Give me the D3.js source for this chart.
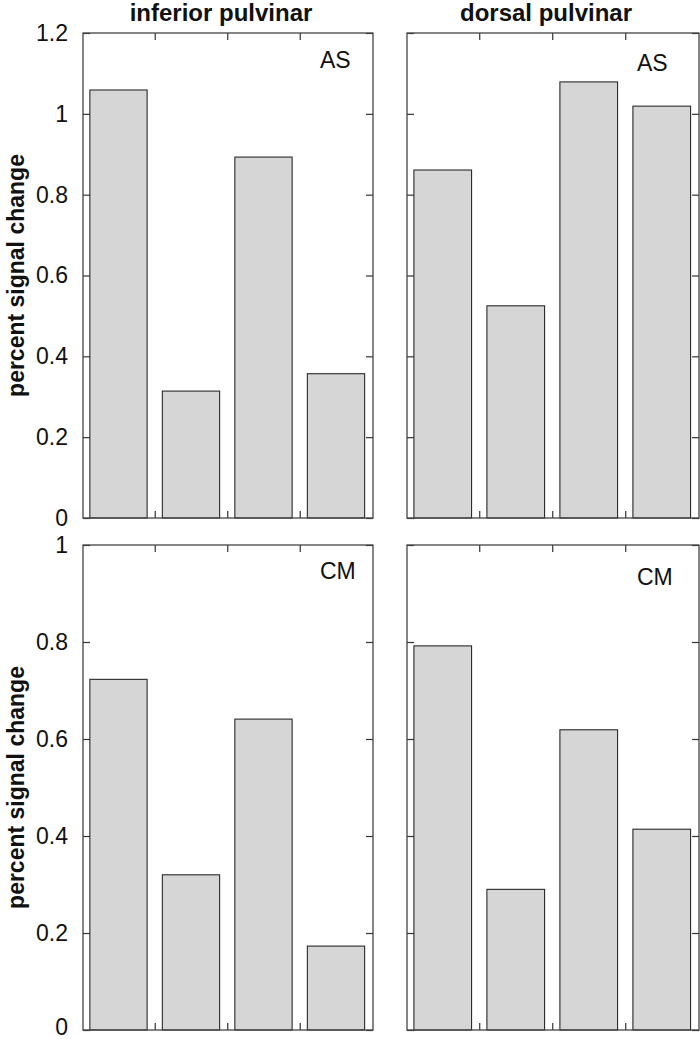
<!DOCTYPE html>
<html>
<head>
<meta charset="utf-8">
<script src="https://cdn.jsdelivr.net/npm/d3@7"></script>
<style>
  body { margin: 0; background: #fff; }
  svg { display: block; font-family: "Liberation Sans", Arial, Helvetica, sans-serif; }
  .tick text { font-size: 23px; fill: #111; }
  .tick line { stroke: #333; stroke-width: 1.2; }
</style>
</head>
<body>
<div id="vis"></div>
<script>
// data
var conditions = ["c1", "c2", "c3", "c4"];
var regions = ["inferior pulvinar", "dorsal pulvinar"];
var subjects = ["AS", "CM"];

var asInferior = [1.059, 0.314, 0.893, 0.357];
var asDorsal = [0.861, 0.525, 1.079, 1.019];
var cmInferior = [0.723, 0.320, 0.641, 0.173];
var cmDorsal = [0.792, 0.290, 0.619, 0.414];

var ticksAS = [0, 0.2, 0.4, 0.6, 0.8, 1, 1.2];
var ticksCM = [0, 0.2, 0.4, 0.6, 0.8, 1];

var panels = [
  {row: 0, col: 0, values: asInferior, max: 1.2, ticks: ticksAS, label: subjects[0], lx: 320, ly: 27},
  {row: 0, col: 1, values: asDorsal,   max: 1.2, ticks: ticksAS, label: subjects[0], lx: 637, ly: 30},
  {row: 1, col: 0, values: cmInferior, max: 1,   ticks: ticksCM, label: subjects[1], lx: 320, ly: 26},
  {row: 1, col: 1, values: cmDorsal,   max: 1,   ticks: ticksCM, label: subjects[1], lx: 637, ly: 32}
];

var width = 700, height = 1039;

/* panel boxes in pixels */
var colLeft = [83, 407];
var colRight = [373, 699];
var rowTop = [33, 545];
var rowBottom = [518, 1030];

var tickLen = 7;

var svg = d3.select("#vis")
  .append("svg")
  .attr("width", width)
  .attr("height", height);

panels.forEach(function(p) {
  var x0 = colLeft[p.col], x1 = colRight[p.col];
  var y0 = rowTop[p.row], y1 = rowBottom[p.row];
  var w = x1 - x0, h = y1 - y0;

  var g = svg.append("g")
    .attr("transform", "translate(" + x0 + "," + y0 + ")");

  var x = d3.scaleBand()
    .domain(conditions)
    .range([0, w])
    .paddingInner(0.21)
    .paddingOuter(0.105)
    .align(0.45);

  var y = d3.scaleLinear()
    .domain([0, p.max])
    .range([h, 0]);

  /* bars */
  g.selectAll("rect.bar")
    .data(p.values)
    .enter()
    .append("rect")
    .attr("class", "bar")
    .attr("x", function(d, i) { return x(conditions[i]); })
    .attr("y", function(d) { return y(d); })
    .attr("width", x.bandwidth())
    .attr("height", function(d) { return h - y(d); })
    .style("fill", "#d6d6d6")
    .style("stroke", "#2a2a2a")
    .style("stroke-width", 1.1);

  /* y ticks, left side (labels only for the left column) */
  var leftAxis = d3.axisLeft(y)
    .tickValues(p.ticks)
    .tickSize(-tickLen)
    .tickPadding(15)
    .tickFormat(p.col === 0 ? d3.format("~g") : "");
  var la = g.append("g").attr("class", "y_axis").call(leftAxis);
  la.select(".domain").remove();
  // keep the lowest label of the bottom row inside the page
  if (p.row === 1) {
    la.selectAll(".tick text").filter(function(d) { return d === 0; }).attr("dy", "0.18em");
  }

  var rightAxis = d3.axisRight(y)
    .tickValues(p.ticks)
    .tickSize(-tickLen)
    .tickFormat("");
  g.append("g").attr("transform", "translate(" + w + ",0)").call(rightAxis)
    .call(function(a) { a.select(".domain").remove(); });

  /* x ticks between the groups, top and bottom */
  var bounds = conditions.slice(1).map(function(c) { return x(c) - x.step() * x.paddingInner() / 2; });
  var xs = d3.scaleLinear().domain([0, w]).range([0, w]);
  var topAxis = d3.axisTop(xs).tickValues(bounds).tickSize(-tickLen).tickFormat("");
  var bottomAxis = d3.axisBottom(xs).tickValues(bounds).tickSize(-tickLen).tickFormat("");
  g.append("g").call(topAxis).call(function(a) { a.select(".domain").remove(); });
  g.append("g").attr("transform", "translate(0," + h + ")").call(bottomAxis)
    .call(function(a) { a.select(".domain").remove(); });

  /* frame */
  g.append("rect")
    .attr("width", w)
    .attr("height", h)
    .style("fill", "none")
    .style("stroke", "#444")
    .style("stroke-width", 1.3);

  /* subject label */
  g.append("text")
    .attr("x", p.lx - x0)
    .attr("y", p.ly)
    .attr("dy", "0.35em")
    .style("font-size", "23px")
    .style("fill", "#111")
    .text(p.label);

  /* column titles */
  if (p.row === 0) {
    svg.append("text")
      .attr("x", (x0 + x1) / 2 - 7)
      .attr("y", 21)
      .attr("text-anchor", "middle")
      .style("font-size", "24px")
      .style("font-weight", "bold")
      .style("fill", "#111")
      .text(regions[p.col]);
  }

  /* y axis title */
  if (p.col === 0) {
    svg.append("text")
      .attr("transform", "translate(24," + (y0 + h / 2) + ") rotate(-90)")
      .attr("text-anchor", "middle")
      .style("font-size", "23px")
      .style("font-weight", "bold")
      .style("fill", "#111")
      .text("percent signal change");
  }
});
</script>
</body>
</html>
